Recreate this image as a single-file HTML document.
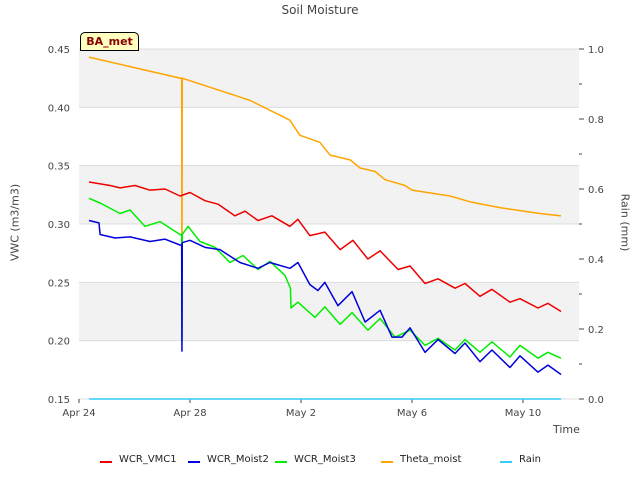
<!DOCTYPE html>
<html><head><meta charset="utf-8"><style>
body{margin:0;background:#fff;font-family:"Liberation Sans","DejaVu Sans",sans-serif}
svg text{font-family:"DejaVu Sans","Liberation Sans",sans-serif}
.lg{position:absolute;top:0;white-space:nowrap}
.lg i{position:absolute;top:7px;width:12px;height:2px}
.lg b{position:absolute;font-weight:normal;left:19px;top:0}
</style></head><body>
<svg id="c" width="640" height="480" xmlns="http://www.w3.org/2000/svg"></svg>
<script>
const yTicks=[0.15,0.20,0.25,0.30,0.35,0.40,0.45];
const yTickLabels=["0.15","0.20","0.25","0.30","0.35","0.40","0.45"];
const rTicks=[0,0.2,0.4,0.6,0.8,1.0];
const rTickLabels=["0.0","0.2","0.4","0.6","0.8","1.0"];
const xTicks=[0,4,8,12,16];
const xTickLabels=["Apr 24","Apr 28","May 2","May 6","May 10"];
const thetaT=[0.36,3.64,3.70,3.71,3.72,6.16,7.60,7.96,8.68,9.05,9.77,10.13,10.67,11.03,11.75,12.0,13.37,14.09,15.17,16.61,17.37];
const thetaV=[0.443,0.425,0.425,0.20,0.425,0.406,0.389,0.376,0.370,0.359,0.355,0.348,0.345,0.338,0.333,0.329,0.324,0.319,0.314,0.309,0.307];
const vmcT=[0.36,1.12,1.48,2.02,2.56,3.10,3.64,4.0,4.54,5.01,5.62,5.98,6.45,6.95,7.60,7.89,8.32,8.86,9.41,9.87,10.41,10.85,11.50,11.93,12.47,12.94,13.55,13.91,14.45,14.88,15.53,15.89,16.54,16.90,17.37];
const vmcV=[0.336,0.333,0.331,0.333,0.329,0.330,0.324,0.327,0.320,0.317,0.307,0.311,0.303,0.307,0.298,0.304,0.290,0.293,0.278,0.286,0.270,0.277,0.261,0.264,0.249,0.253,0.245,0.249,0.238,0.244,0.233,0.236,0.228,0.232,0.225];
const m2T=[0.36,0.72,0.76,1.30,1.84,2.56,3.10,3.64,3.70,3.71,3.72,4.0,4.54,5.08,5.80,6.45,6.88,7.60,7.89,8.32,8.61,8.86,9.33,9.84,10.31,10.85,11.28,11.64,11.93,12.47,12.94,13.55,13.91,14.45,14.88,15.53,15.89,16.54,16.90,17.37];
const m2V=[0.303,0.301,0.291,0.288,0.289,0.285,0.287,0.282,0.282,0.191,0.284,0.286,0.280,0.278,0.267,0.262,0.267,0.262,0.267,0.248,0.243,0.250,0.230,0.242,0.216,0.226,0.203,0.203,0.211,0.190,0.201,0.189,0.198,0.182,0.192,0.177,0.187,0.173,0.179,0.171];
const m3T=[0.36,0.76,1.48,1.84,2.38,2.92,3.64,3.70,3.71,3.72,3.93,4.36,4.90,5.44,5.91,6.45,6.88,7.42,7.62,7.64,7.89,8.50,8.86,9.41,9.84,10.41,10.85,11.39,11.93,12.47,12.94,13.55,13.91,14.45,14.88,15.53,15.89,16.54,16.90,17.37];
const m3V=[0.322,0.318,0.309,0.312,0.298,0.302,0.291,0.291,0.20,0.291,0.298,0.285,0.280,0.267,0.273,0.261,0.268,0.256,0.245,0.228,0.233,0.220,0.229,0.214,0.224,0.209,0.219,0.203,0.209,0.196,0.202,0.192,0.201,0.190,0.199,0.186,0.196,0.185,0.190,0.185];
const rainT=[0.36,17.37];
const rainV=[0,0];

const NS="http://www.w3.org/2000/svg",svg=document.getElementById('c');
const L=79,R=579,T=49,B=399;
const xs=d=>L+d*27.75;
const ys=v=>B-(v-0.15)/0.30*(B-T);
const yr=v=>B-v*(B-T);
function el(t,a,p){const e=document.createElementNS(NS,t);for(const k in a)e.setAttribute(k,a[k]);(p||svg).appendChild(e);return e;}
function tx(s,a){const e=el('text',a);e.textContent=s;return e;}
for(let i=0;i<yTicks.length-1;i++){
  if(i%2==1){const b=el('rect',{x:L,y:ys(yTicks[i+1]),width:R-L,height:ys(yTicks[i])-ys(yTicks[i+1]),fill:'#f2f2f2'});
  }
}
yTicks.forEach((v,i)=>{
  const g=el('line',{x1:L,x2:R,y1:ys(v),y2:ys(v),stroke:'#dcdcdc','stroke-width':1});
  
  const t=tx(yTickLabels[i],{x:L-9,y:ys(v)+4,'text-anchor':'end','font-size':10,fill:'#444'});
  
});
rTicks.forEach((v,i)=>{
  el('line',{x1:R,x2:R+5,y1:yr(v),y2:yr(v),stroke:'#444'});
  const t=tx(rTickLabels[i],{x:R+9,y:yr(v)+4,'font-size':10,fill:'#444'});
  
  if(i<rTicks.length-1)el('line',{x1:R,x2:R+3,y1:yr(v+0.1),y2:yr(v+0.1),stroke:'#444'});
});
xTicks.forEach((d,i)=>{
  el('line',{x1:xs(d),x2:xs(d),y1:B,y2:B+4,stroke:'#444'});
  const t=tx(xTickLabels[i],{x:xs(d),y:B+17,'text-anchor':'middle','font-size':10,fill:'#444'});
  
});
function line(T_,V_,c,name,f){
  const p=el('polyline',{points:T_.map((t,i)=>xs(t)+','+f(V_[i])).join(' '),fill:'none',stroke:c,'stroke-width':1.5,'stroke-linejoin':'round'});
  
}
line(rainT,rainV,'#33ccff','rain-line',yr);
line(thetaT,thetaV,'#ffa500','theta-moist-line',ys);
line(m3T,m3V,'#00ee00','wcr-moist3-line',ys);
line(m2T,m2V,'#0000dd','wcr-moist2-line',ys);
line(vmcT,vmcV,'#ee0000','wcr-vmc1-line',ys);
</script>
<div style="position:absolute;left:0;top:3px;width:640px;text-align:center;font-size:12px;color:#444;font-family:'DejaVu Sans',sans-serif">Soil Moisture</div>
<div style="position:absolute;left:80px;top:32px;width:57px;height:17px;background:#ffffc0;border:1px solid #000;border-radius:5px 5px 0 0;font:bold 11px 'DejaVu Sans',sans-serif;color:#8b0000;line-height:17px;text-align:center">BA_met</div>
<div style="position:absolute;left:-35px;top:216px;width:100px;text-align:center;transform:rotate(-90deg);font:11px 'DejaVu Sans',sans-serif;color:#444">VWC (m3/m3)</div>
<div style="position:absolute;left:590px;top:216px;width:70px;text-align:center;transform:rotate(90deg);font:11px 'DejaVu Sans',sans-serif;color:#444">Rain (mm)</div>
<div style="position:absolute;left:553px;top:423px;font:11px 'DejaVu Sans',sans-serif;color:#444">Time</div>
<div style="position:absolute;left:0;top:454px;width:640px;height:14px;font:10px 'DejaVu Sans',sans-serif;color:#222">
 <span class="lg" style="left:100px"><i style="background:#e00"></i><b>WCR_VMC1</b></span>
 <span class="lg" style="left:188px"><i style="background:#00d"></i><b>WCR_Moist2</b></span>
 <span class="lg" style="left:275px"><i style="background:#0e0"></i><b>WCR_Moist3</b></span>
 <span class="lg" style="left:381px"><i style="background:#ffa500"></i><b>Theta_moist</b></span>
 <span class="lg" style="left:500px"><i style="background:#3cf"></i><b>Rain</b></span>
</div>
</body></html>
